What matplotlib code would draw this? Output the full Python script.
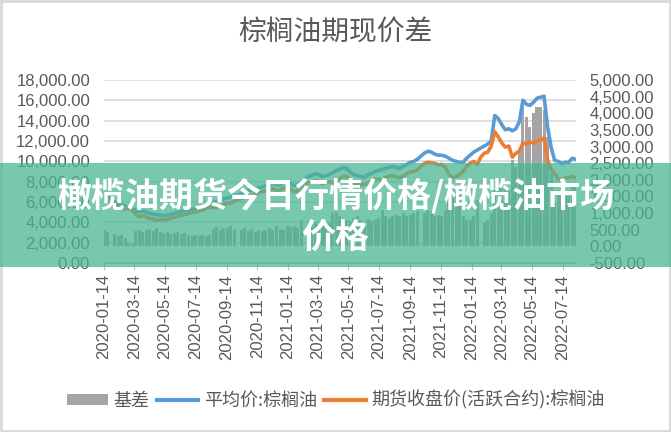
import matplotlib
matplotlib.use("Agg")
import matplotlib.pyplot as plt
import matplotlib.dates as mdates
from matplotlib.patches import Rectangle, Patch
from matplotlib.lines import Line2D
from matplotlib.ticker import FuncFormatter, MultipleLocator
import numpy as np
import pandas as pd

plt.rcParams['font.family'] = ['Noto Sans CJK SC', 'DejaVu Sans']

# weekly samples, 2020-01-14 .. 2022-08-09
dates = pd.date_range("2020-01-14", periods=135, freq="7D")

spot = [6700, 6500, 6300, 6000, 5800, 5700, 5600, 5450, 5300, 5250, 5050, 5100,
        5000, 4900, 4800, 4750, 4700, 4650, 4700, 4800,
        4900, 5000, 5100, 5150, 5200, 5300, 5350, 5450, 5550,
        5700, 5800, 5950, 6050, 6150, 6300, 6400, 6500, 6600,
        6700, 6800, 7000, 7100, 7200, 7300, 7400, 7500,
        7600, 7700, 7800, 7700, 7700,
        7900, 8000, 7800, 7600, 7700, 7900, 8200, 8500,
        8600, 8800, 8700, 8500, 8600, 8700, 8900, 9100, 9200,
        9400, 9300, 8900, 8700, 8600, 8500, 8400, 8700, 8800,
        9000, 9100, 9200, 9300, 9400, 9500, 9400, 9300, 9500,
        9700, 9900, 10000, 10200, 10500, 10800, 11000, 10900,
        10700, 10600, 10600, 10500, 10300, 10100, 10000, 9900, 9900,
        10300, 10600, 10900, 11100, 11300, 11500, 11700, 12000,
        14500, 14200, 13600, 13100, 13200, 13000, 13200, 13900, 16000,
        15600, 15500, 15800, 16200, 16300, 16400, 13400, 11400, 10100,
        10000, 9800, 9900, 9900, 10300, 10200]

futures = [6220, 6070, 5850, 5620, 5500, 5350, 5340, 5360, 5240, 4800, 4550, 4680,
           4520, 4380, 4350, 4190, 4270, 4250, 4280, 4420,
           4500, 4580, 4720, 4750, 4870, 5000, 5010, 5130, 5200,
           5400, 5470, 5430, 5470, 5650, 5740, 5860, 5900, 6080,
           6200, 6320, 6450, 6650, 6680, 6880, 6900, 7040,
           7120, 7150, 7300, 7100, 7180,
           7400, 7380, 7220, 7000, 7140, 7100, 7600, 7900,
           7950, 8100, 8050, 7780, 7920, 8000, 7900, 8070, 8300,
           8550, 8500, 8150, 7850, 7700, 7700, 7700, 7880, 8050,
           8200, 8250, 8100, 8400, 8550, 8600, 8450, 8400, 8500,
           8800, 8950, 9000, 9150, 9500, 9800, 9900, 9850,
           9800, 9650, 9700, 9400, 8700, 8400, 8500, 8700, 9000,
           9500, 9800, 10000, 9700, 10400, 10800, 10900, 11500,
           12900, 12400, 11800, 11400, 11500, 10400, 10800, 11000, 11800,
           11700, 11900, 11800, 12000, 12100, 12300, 10100, 9200, 8800,
           8300, 8200, 8400, 8400, 8500, 8400]

basis = [480, 430, 0, 380, 300, 350, 260, 90, 60, 450, 500, 420,
         480, 520, 450, 560, 430, 400, 420, 380,
         400, 420, 380, 400, 330, 300, 340, 320, 350,
         300, 330, 520, 580, 500, 560, 540, 600, 520,
         0, 480, 550, 450, 520, 420, 500, 460,
         480, 550, 500, 600, 520,
         500, 620, 580, 600, 560, 800, 0, 600,
         650, 700, 650, 720, 680, 700, 1000, 1030, 900,
         850, 800, 750, 850, 900, 800, 700, 820, 750,
         800, 850, 1100, 900, 850, 900, 950, 900, 1000,
         900, 950, 1000, 1050, 0, 1000, 1100, 1050,
         900, 950, 900, 1100, 1600, 1700, 1500, 1200, 900,
         800, 800, 900, 1400, 0, 700, 800, 1000,
         1700, 1800, 1800, 1700, 1700, 2600, 2400, 2900, 4200,
         3900, 3600, 4000, 4200, 4200, 4100, 3300, 2200, 1300,
         1700, 1600, 1500, 1500, 1800, 1800]

label_basis = "基差"
label_spot = "平均价:棕榈油"
label_fut = "期货收盘价(活跃合约):棕榈油"

c_gray = "#a5a5a5"
c_blue = "#5b9bd5"
c_orange = "#ed7d31"
c_text = "#595959"

fig = plt.figure(figsize=(6.71, 4.32), dpi=100)
ax1 = fig.add_axes([0.155, 0.391, 0.703, 0.424])
ax2 = ax1.twinx()
ax3 = ax1.twinx()
ax1.set_zorder(1)
ax2.set_zorder(2)
ax3.set_zorder(3)
ax2.patch.set_visible(False)
ax3.patch.set_visible(False)

# left axis grid
ax1.set_ylim(0, 18000)
ax1.yaxis.set_major_locator(MultipleLocator(2000))
ax1.grid(axis="y", color="#d9d9d9", linewidth=1.2)
ax1.grid(axis="x", visible=False)

# bars on right axis
ax2.bar(dates, basis, width=6, color=c_gray, linewidth=0)
ax2.set_ylim(-500, 5000)
ax2.yaxis.set_major_locator(MultipleLocator(500))

# lines on the left scale
ax3.plot(dates, spot, color=c_blue, linewidth=2.6, solid_joinstyle="round")
ax3.plot(dates, futures, color=c_orange, linewidth=2.6, solid_joinstyle="round")
ax3.set_ylim(0, 18000)
ax3.set_yticks([])

fmt = FuncFormatter(lambda v, p: f"{v:,.2f}")
for ax in (ax1, ax2):
    ax.yaxis.set_major_formatter(fmt)
    ax.tick_params(axis="y", length=0, labelsize=12, labelcolor=c_text, pad=10)
    for lab in ax.get_yticklabels():
        lab.set_fontfamily("Liberation Sans")
    for s in ax.spines.values():
        s.set_visible(False)
for s in ax3.spines.values():
    s.set_visible(False)
ax1.spines["bottom"].set_visible(True)
ax1.spines["bottom"].set_color("#bfbfbf")
ax1.spines["bottom"].set_linewidth(1.2)

ax1.set_xlim(pd.Timestamp("2020-01-14"), pd.Timestamp("2022-08-09"))
ax1.xaxis.set_major_locator(mdates.MonthLocator(bymonth=[1, 3, 5, 7, 9, 11], bymonthday=14))
ax1.xaxis.set_major_formatter(mdates.DateFormatter("%Y-%m-%d"))
ax1.tick_params(axis="x", length=5, color="#bfbfbf", labelsize=12, labelcolor=c_text, labelrotation=90, pad=3)
for lab in ax1.get_xticklabels():
    lab.set_fontfamily("Liberation Sans")

fig.text(0.5, 0.924, "棕榈油期现价差", ha="center", va="center", fontsize=20, color=c_text)

handles = [Patch(facecolor=c_gray, edgecolor="none"),
           Line2D([0], [0], color=c_blue, linewidth=3),
           Line2D([0], [0], color=c_orange, linewidth=3)]
fig.legend(handles, [label_basis, label_spot, label_fut], loc="center", ncol=3,
           bbox_to_anchor=(0.5, 0.074), frameon=False, fontsize=13,
           handlelength=2.3, handleheight=0.6, handletextpad=0.3, columnspacing=0.4,
           labelcolor=c_text)

# chart border
fig.add_artist(Rectangle((0.002, 0.003), 0.996, 0.994, transform=fig.transFigure,
                         fill=False, edgecolor="#d9d9d9", linewidth=2, zorder=20))

# overlay banner
fig.add_artist(Rectangle((0, 0.382), 1, 0.2407, transform=fig.transFigure,
                         facecolor="#4bb594", alpha=0.75, edgecolor="none", zorder=30))
fig.text(0.5, 0.548, "橄榄油期货今日行情价格/橄榄油市场", ha="center", va="center",
         fontsize=24.5, fontweight="bold", color="white", zorder=31)
fig.text(0.5, 0.451, "价格", ha="center", va="center",
         fontsize=24.5, fontweight="bold", color="white", zorder=31)

fig.savefig("out.png", dpi=100)
